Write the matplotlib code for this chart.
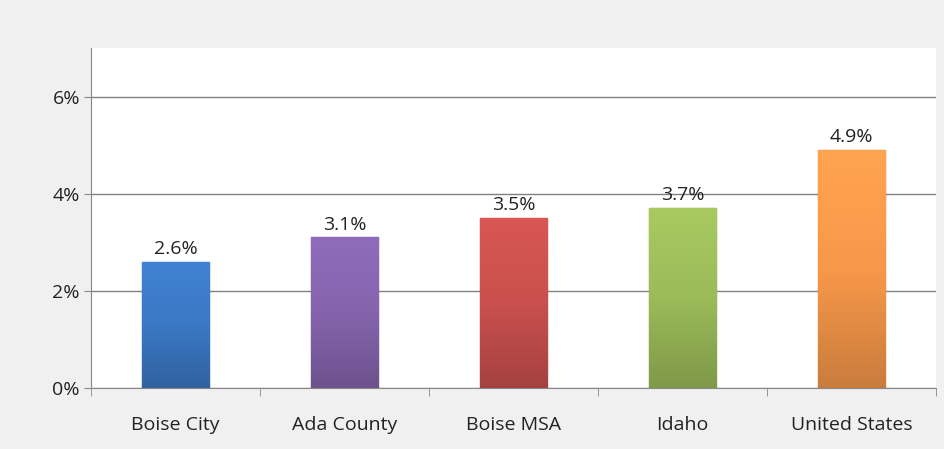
import matplotlib.pyplot as plt
import numpy as np
from matplotlib.colors import to_rgb, LinearSegmentedColormap

# Data
categories = ["Boise City", "Ada County", "Boise MSA", "Idaho", "United States"]
values = [2.6, 3.1, 3.5, 3.7, 4.9]
labels = ["2.6%", "3.1%", "3.5%", "3.7%", "4.9%"]
colors = ["#3b78c4", "#8564ad", "#c9504e", "#9bbb59", "#f7984a"]
yticks = [0, 2, 4, 6]

plt.rcParams['font.family'] = ['Open Sans', 'DejaVu Sans']

fig = plt.figure(figsize=(9.44, 4.49), dpi=100)
fig.patch.set_facecolor('#f0f0f0')
ax = fig.add_axes([0.0964, 0.1359, 0.8951, 0.7572])
ax.set_facecolor('white')

x = np.arange(len(categories))
bars = ax.bar(x, values, width=0.4, color=colors, edgecolor='none', zorder=3)

# soft vertical shading on each bar
for b, c in zip(bars, colors):
    r, g, bl = to_rgb(c)
    light = (min(r * 1.08, 1), min(g * 1.08, 1), min(bl * 1.08, 1))
    dark = (r * 0.82, g * 0.82, bl * 0.82)
    cmap = LinearSegmentedColormap.from_list("g", [dark, c, light])
    grad = np.linspace(0, 1, 100).reshape(-1, 1)
    bx, by = b.get_x(), b.get_y()
    im = ax.imshow(grad, cmap=cmap, aspect='auto', origin='lower',
                   extent=(bx, bx + b.get_width(), by, by + b.get_height()), zorder=3)
    im.set_clip_path(b)
    b.set_edgecolor(dark)
    b.set_linewidth(1.0)

for xi, v, lab in zip(x, values, labels):
    ax.text(xi, v + 0.08, lab, ha='center', va='bottom', fontsize=14, color='#222222', zorder=4)

ax.set_xlim(-0.5, len(categories) - 0.5)
ax.set_ylim(0, 7)
ax.set_yticks(yticks)
ax.set_yticklabels([f"{t}%" for t in yticks], fontsize=14, color='#222222')
ax.set_xticks(x)
ax.set_xticklabels(categories, fontsize=14, color='#222222')
ax.tick_params(axis='x', length=0, pad=20)
ax.tick_params(axis='y', length=5, color='#888888', pad=3, direction='out')

# category separators on the x axis
ax.set_xticks(np.arange(-0.5, len(categories)), minor=True)
ax.tick_params(axis='x', which='minor', length=6, color='#888888', direction='out')

ax.grid(axis='y', color='#808080', linewidth=1.0, zorder=0)
ax.set_axisbelow(True)
for s in ['top', 'right']:
    ax.spines[s].set_visible(False)
ax.spines['left'].set_color('#888888')
ax.spines['bottom'].set_color('#888888')

fig.savefig('out.png', dpi=100, facecolor=fig.get_facecolor())
